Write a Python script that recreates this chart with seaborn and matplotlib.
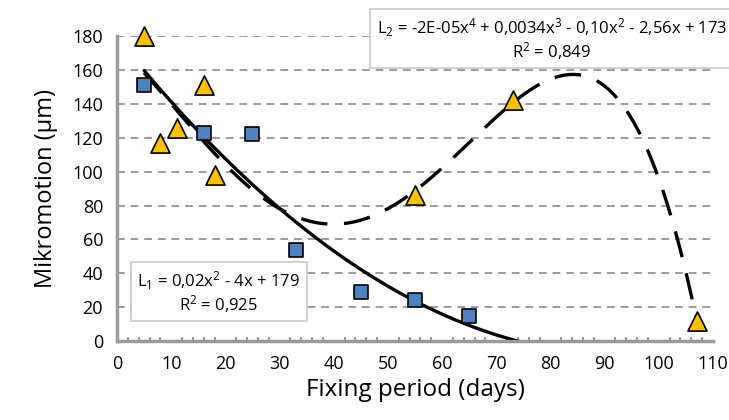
import numpy as np
import pandas as pd
import seaborn as sns
import matplotlib.pyplot as plt
from matplotlib.ticker import MultipleLocator

# data
days_sq = [5, 16, 25, 33, 45, 55, 65]
micro_sq = [151, 123, 122, 54, 29, 24, 15]
days_tri = [5, 8, 11, 16, 18, 55, 73, 107]
micro_tri = [180, 117, 126, 151, 98, 86, 142, 12]

xticks = list(range(0, 111, 10))
yticks = list(range(0, 181, 20))

sns.set_theme(style="white", rc={"text.color": "black", "axes.labelcolor": "black",
                                 "xtick.labelcolor": "black", "ytick.labelcolor": "black"})
plt.rcParams['font.family'] = ['Open Sans', 'DejaVu Sans']
plt.rcParams['mathtext.fontset'] = 'custom'
plt.rcParams['mathtext.rm'] = 'Open Sans'
plt.rcParams['mathtext.it'] = 'Open Sans'

sq = pd.DataFrame({"x": days_sq, "y": micro_sq})
tri = pd.DataFrame({"x": days_tri, "y": micro_tri})

# polynomial trendlines (like excel)
c1 = np.polyfit(sq["x"], sq["y"], 2)
c2 = np.polyfit(tri["x"], tri["y"], 4)
x1 = np.linspace(min(days_sq), 80, 300)
x2 = np.linspace(min(days_tri), max(days_tri), 400)
fit1 = pd.DataFrame({"x": x1, "y": np.polyval(c1, x1)})
fit2 = pd.DataFrame({"x": x2, "y": np.polyval(c2, x2)})

fig = plt.figure(figsize=(7.29, 4.2), dpi=100)
ax = fig.add_axes([0.1605, 0.188, 0.8175, 0.726])

grey = "#9a9a9a"
for yv in yticks[1:]:
    ax.axhline(yv, color=grey, lw=1.4, ls=(0, (4, 3)), zorder=0)

sns.lineplot(data=fit1, x="x", y="y", ax=ax, color="black", lw=2.4, zorder=2)
sns.lineplot(data=fit2, x="x", y="y", ax=ax, color="black", lw=2.4, zorder=2)
ax.lines[-1].set_dashes((8, 5))

sns.scatterplot(data=sq, x="x", y="y", ax=ax, marker="s", s=100, color="#4F81BD",
                edgecolor="black", linewidth=1.2, zorder=3, clip_on=False)
sns.scatterplot(data=tri, x="x", y="y", ax=ax, marker="^", s=190, color="#FFC000",
                edgecolor="black", linewidth=1.2, zorder=3, clip_on=False)

ax.set_xlim(0, 110)
ax.set_ylim(0, 180)
ax.set_xticks(xticks)
ax.set_yticks(yticks)
ax.xaxis.set_minor_locator(MultipleLocator(2))
ax.tick_params(axis="x", which="major", direction="in", length=6, width=1.5, color=grey,
               labelsize=13, pad=10, labelcolor="black")
ax.tick_params(axis="x", which="minor", direction="in", length=3, width=1.5, color=grey,
               bottom=True)
ax.tick_params(axis="y", direction="out", length=6, width=2, color=grey, labelsize=13, pad=4,
               labelcolor="black")
for s in ["top", "right"]:
    ax.spines[s].set_visible(False)
for s in ["left", "bottom"]:
    ax.spines[s].set_color(grey)
    ax.spines[s].set_linewidth(2.5)

ax.set_xlabel("Fixing period (days)", fontsize=17.5, labelpad=4, color="black")
ax.set_ylabel("Mikromotion (µm)", fontsize=17, labelpad=10, color="black")

box = dict(boxstyle="square,pad=0.4", facecolor="white", edgecolor="#c8c8c8", lw=1.2)
fig.text(0.300, 0.305, "L$_1$ = 0,02x$^2$ - 4x + 179\nR$^2$ = 0,925", ha="center", va="center",
         fontsize=12, linespacing=1.05, bbox=box, color="black")
fig.text(0.757, 0.907, "L$_2$ = -2E-05x$^4$ + 0,0034x$^3$ - 0,10x$^2$ - 2,56x + 173\nR$^2$ = 0,849",
         ha="center", va="center", fontsize=12, linespacing=1.05, bbox=box, color="black")

fig.savefig("out.png", dpi=100)
